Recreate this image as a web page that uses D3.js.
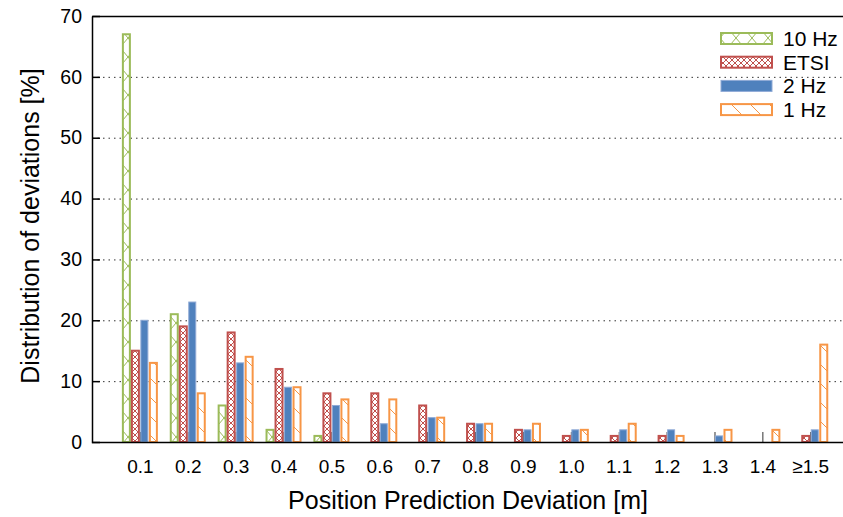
<!DOCTYPE html>
<html>
<head>
<meta charset="utf-8">
<script src="https://cdn.jsdelivr.net/npm/d3@7"></script>
<style>
  body { margin: 0; background: #fff; }
  svg { font-family: "Liberation Sans", Arial, sans-serif; display: block; }
</style>
</head>
<body>
<div id="chart"></div>
<script>
// data
var categories = ["0.1", "0.2", "0.3", "0.4", "0.5", "0.6", "0.7", "0.8", "0.9", "1.0", "1.1", "1.2", "1.3", "1.4", "\u22651.5"];
var seriesNames = ["10 Hz", "ETSI", "2 Hz", "1 Hz"];
var hz10 = [67, 21, 6, 2, 1, 0, 0, 0, 0, 0, 0, 0, 0, 0, 0];
var etsi = [15, 19, 18, 12, 8, 8, 6, 3, 2, 1, 1, 1, 0, 0, 1];
var hz2  = [20, 23, 13, 9, 6, 3, 4, 3, 2, 2, 2, 2, 1, 0, 2];
var hz1  = [13, 8, 14, 9, 7, 7, 4, 3, 3, 2, 3, 1, 2, 2, 16];
var yTicks = [0, 10, 20, 30, 40, 50, 60, 70];

function barChart(){
  var W = 843, H = 517;
  var left = 92, top = 16, bottom = 442, right = 850;

  var svg = d3.select("#chart").append("svg")
      .attr("width", W).attr("height", H);

  var colors = ["#9BBB59", "#C0504D", "#4F81BD", "#F79646"];
  var fills = ["url(#pGreen)", "url(#pRed)", "#4F81BD", "url(#pOrange)"];

  // fill patterns
  var defs = svg.append("defs");
  var pg = defs.append("pattern").attr("id", "pGreen")
      .attr("patternUnits", "userSpaceOnUse").attr("width", 16).attr("height", 19);
  pg.append("rect").attr("width", 16).attr("height", 19).attr("fill", "#fff");
  pg.append("path").attr("d", "M0,0 L8,9.5 L16,0 M0,19 L8,9.5 L16,19")
      .attr("stroke", colors[0]).attr("stroke-width", 1).attr("fill", "none");

  var pr = defs.append("pattern").attr("id", "pRed")
      .attr("patternUnits", "userSpaceOnUse").attr("width", 6).attr("height", 6);
  pr.append("rect").attr("width", 6).attr("height", 6).attr("fill", "#fff");
  pr.append("path").attr("d", "M0,0 L6,6 M6,0 L0,6")
      .attr("stroke", colors[1]).attr("stroke-width", 1).attr("fill", "none");

  var po = defs.append("pattern").attr("id", "pOrange")
      .attr("patternUnits", "userSpaceOnUse").attr("width", 19).attr("height", 19);
  po.append("rect").attr("width", 19).attr("height", 19).attr("fill", "#fff");
  po.append("path").attr("d", "M0,0 L19,19")
      .attr("stroke", colors[3]).attr("stroke-width", 1).attr("fill", "none");

  var x = d3.scaleLinear().domain([0, 15.83]).range([left, right]);
  var y = d3.scaleLinear().domain([0, 70]).range([bottom, top]);

  // dotted grid
  svg.append("g").selectAll("line")
    .data(yTicks.filter(function(d){ return d > 0 && d < 70; }))
    .enter().append("line")
    .attr("x1", left).attr("x2", W)
    .attr("y1", function(d){ return y(d) + 0.5; })
    .attr("y2", function(d){ return y(d) + 0.5; })
    .attr("stroke", "#333").attr("stroke-width", 1)
    .attr("stroke-dasharray", "1.5,4");

  // x axis ticks (drawn under the bars)
  var xAxis = svg.append("g")
    .attr("transform", "translate(0," + bottom + ")")
    .call(d3.axisBottom(x).tickValues(d3.range(1, categories.length + 1))
      .tickFormat(function(d){ return categories[d - 1]; })
      .tickSize(-10).tickPadding(18));
  xAxis.select(".domain").remove();
  xAxis.selectAll("text").attr("font-size", 19).attr("font-family", "Liberation Sans, Arial").attr("fill", "#000");
  xAxis.selectAll("line").attr("stroke", "#333");

  // bars
  var series = [hz10, etsi, hz2, hz1];
  var bw = 9;
  series.forEach(function(vals, s){
    var pts = vals.map(function(v, i){ return {v: v, i: i}; })
      .filter(function(d){ return d.v > 0; });
    svg.append("g").selectAll("rect")
      .data(pts)
      .enter().append("rect")
      .attr("x", function(d){ return x(d.i + 1) - 18 + s * bw + 1; })
      .attr("width", bw - 2)
      .attr("y", function(d){ return y(d.v); })
      .attr("height", function(d){ return bottom - y(d.v); })
      .attr("fill", fills[s])
      .attr("stroke", s == 2 ? "#8FAAD6" : colors[s])
      .attr("stroke-width", s == 2 ? 1 : 2);
  });

  // frame
  svg.append("path")
    .attr("d", "M" + (left + 0.5) + "," + (top + 0.5) + " H" + W +
               " M" + (left + 0.5) + "," + (top + 0.5) + " V" + (bottom + 0.5) + " H" + W)
    .attr("fill", "none").attr("stroke", "#000").attr("stroke-width", 1.5);

  // y axis
  var yAxis = svg.append("g")
    .attr("transform", "translate(" + left + ",0)")
    .call(d3.axisLeft(y).tickValues(yTicks).tickSize(-8).tickPadding(10));
  yAxis.select(".domain").remove();
  yAxis.selectAll("text").attr("font-size", 19.5).attr("font-family", "Liberation Sans, Arial").attr("fill", "#000");
  yAxis.selectAll("line").attr("stroke-width", 1.5);

  // axis titles
  svg.append("text")
    .attr("transform", "translate(39," + 226 + ") rotate(-90)")
    .attr("text-anchor", "middle")
    .attr("font-size", 25)
    .text("Distribution of deviations [%]");

  svg.append("text")
    .attr("x", 468).attr("y", 509)
    .attr("text-anchor", "middle")
    .attr("font-size", 25)
    .text("Position Prediction Deviation [m]");

  // legend
  var legend = svg.append("g").attr("class", "legend");
  legend.selectAll("rect")
    .data(seriesNames)
    .enter().append("rect")
    .attr("x", 721).attr("width", 51)
    .attr("y", function(d, i){ return 33 + i * 23.7; })
    .attr("height", 11)
    .attr("fill", function(d, i){ return fills[i]; })
    .attr("stroke", function(d, i){ return i == 2 ? "#8FAAD6" : colors[i]; })
    .attr("stroke-width", function(d, i){ return i == 2 ? 1 : 2; });

  legend.selectAll("text")
    .data(seriesNames)
    .enter().append("text")
    .attr("x", 783)
    .attr("y", function(d, i){ return 46 + i * 23.7; })
    .attr("font-size", 21)
    .text(function(d){ return d; });
}

barChart();
</script>
</body>
</html>
